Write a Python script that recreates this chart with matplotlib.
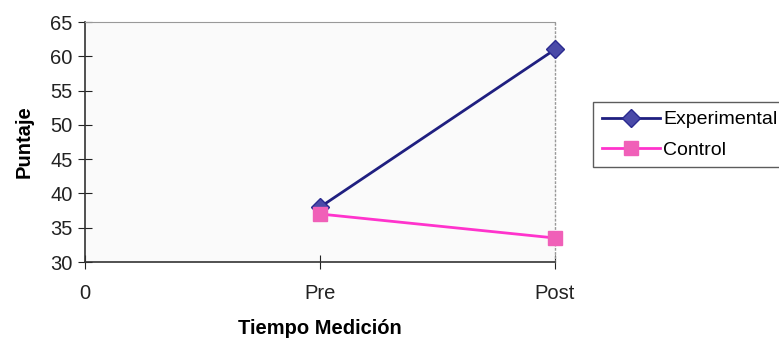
import matplotlib
matplotlib.use("Agg")
import matplotlib.pyplot as plt
import numpy as np

plt.rcParams['font.family'] = ['Liberation Sans', 'DejaVu Sans']

categories = ["0", "Pre", "Post"]
experimental = [np.nan, 38.0, 61.0]
control = [np.nan, 37.0, 33.5]
yticks = [30, 35, 40, 45, 50, 55, 60, 65]

fig = plt.figure(figsize=(7.79, 3.41), dpi=100)
ax = fig.add_axes([85/779, 1-262/341, (555-85)/779, (262-22)/341])
ax.set_facecolor('#fafafa')

x = np.arange(len(categories))
ax.plot(x, experimental, color='#1f1f80', lw=2, marker='D', ms=9,
        mfc='#4a4aa8', mec='#2a2a90', label='Experimental', clip_on=False, zorder=3)
ax.plot(x, control, color='#ff33cc', lw=2, marker='s', ms=10,
        mfc='#f060b8', mec='#f060b8', label='Control', clip_on=False, zorder=3)

ax.set_xlim(0, 2)
ax.set_ylim(30, 65)
ax.set_xticks(x)
ax.set_xticklabels(categories)
ax.set_yticks(yticks)
ax.tick_params(axis='both', direction='inout', length=10, labelsize=14.5, colors='#222222')
ax.tick_params(axis='x', pad=11)
ax.tick_params(axis='y', pad=4)
for s in ['left', 'bottom']:
    ax.spines[s].set_color('#333333')
    ax.spines[s].set_linewidth(1.2)
ax.spines['top'].set_color('#999999')
ax.spines['top'].set_linewidth(0.8)
ax.spines['right'].set_color('#999999')
ax.spines['right'].set_linestyle((0, (1, 2)))
ax.spines['right'].set_linewidth(1.0)

ax.set_ylabel('Puntaje', fontsize=14.5, fontweight='bold', labelpad=12)
ax.set_xlabel('Tiempo Medición', fontsize=14.5, fontweight='bold', labelpad=11)

leg = fig.legend(loc='upper left', bbox_to_anchor=(593/779, 1-102/341),
                 frameon=True, fancybox=False, fontsize=14,
                 handlelength=3.0, borderpad=0.45, labelspacing=0.65,
                 handletextpad=0.15, borderaxespad=0)
leg.get_frame().set_edgecolor('#333333')
leg.get_frame().set_linewidth(1.0)

fig.savefig('out.png', dpi=100)
